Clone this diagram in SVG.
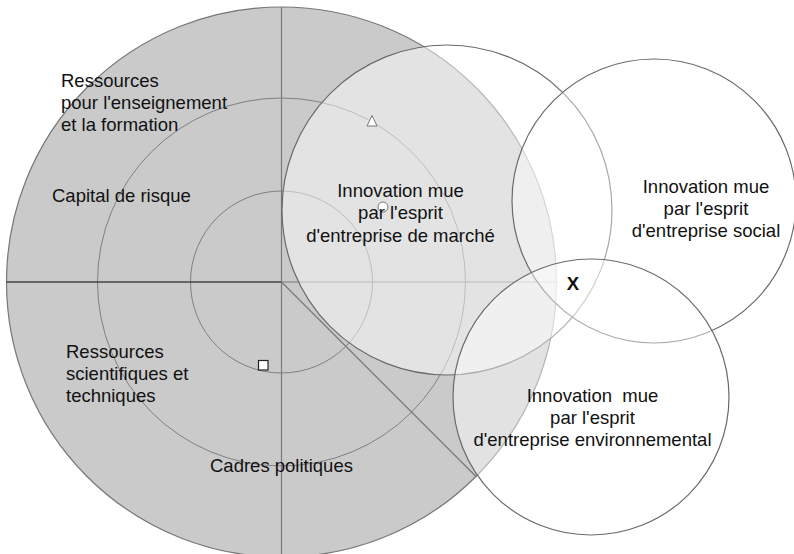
<svg xmlns="http://www.w3.org/2000/svg" width="794" height="554" viewBox="0 0 794 554">
<style>
text{font-family:"Liberation Sans",Arial,Helvetica,sans-serif;font-size:18.5px;fill:#111}
.mid{text-anchor:middle}
.ring{fill:none;stroke:#808080;stroke-width:1}
.ln{stroke:#7a7a7a;stroke-width:1.2;fill:none}
.inn{stroke:#6a6a6a;stroke-width:1.2;fill:#fff}
.mk{fill:#fff;stroke:#777;stroke-width:1}
</style>
<rect width="794" height="554" fill="#fff"/>
<g id="ecosystem">
<circle cx="281.5" cy="282" r="275" fill="#cacaca" stroke="#777" stroke-width="1.2"/>
<circle class="ring" cx="281.5" cy="282" r="184"/>
<circle class="ring" cx="281.5" cy="282" r="91"/>
</g>
<g id="connectors">
<line class="ln" x1="281.5" y1="7" x2="281.5" y2="557"/>
<line x1="6.5" y1="282" x2="281.5" y2="282" stroke="#444" stroke-width="1.6"/>
<line class="ln" x1="281.5" y1="282" x2="556.5" y2="282"/>
<line class="ln" x1="281.5" y1="282" x2="476" y2="476.5"/>
</g>
<g id="market">
<circle class="inn" cx="447" cy="210" r="165" fill-opacity="0.48"/>
</g>
<g id="social">
<circle class="inn" cx="654" cy="201" r="142" fill-opacity="0.42"/>
</g>
<g id="environmental">
<circle class="inn" cx="591" cy="397" r="138" fill-opacity="0.45"/>
</g>
<g id="markers">
<polygon class="mk" points="372,115.5 367,126 377,126"/>
<circle class="mk" cx="383" cy="207" r="5"/>
<rect x="258.5" y="360.5" width="9.5" height="9.5" fill="#fff" stroke="#222" stroke-width="1.2"/>
</g>
<g id="labels">
<text x="61" y="87">Ressources</text>
<text x="61" y="109">pour l'enseignement</text>
<text x="61" y="131">et la formation</text>
<text x="52" y="202">Capital de risque</text>
<text x="66" y="358">Ressources</text>
<text x="66" y="380">scientifiques et</text>
<text x="66" y="402">techniques</text>
<text x="210" y="472">Cadres politiques</text>
</g>
<g id="market-label">
<text class="mid" x="400.5" y="197">Innovation mue</text>
<text class="mid" x="400.5" y="219">par l'esprit</text>
<text class="mid" x="400.5" y="242">d'entreprise de marché</text>
</g>
<g id="social-label">
<text class="mid" x="706" y="193">Innovation mue</text>
<text class="mid" x="706" y="215">par l'esprit</text>
<text class="mid" x="706" y="237">d'entreprise social</text>
</g>
<g id="env-label">
<text class="mid" x="592.5" y="402" xml:space="preserve">Innovation  mue</text>
<text class="mid" x="592.5" y="424">par l'esprit</text>
<text class="mid" x="592.5" y="446">d'entreprise environnemental</text>
</g>
<text x="573" y="290" class="mid" style="font-weight:bold">X</text>
</svg>
